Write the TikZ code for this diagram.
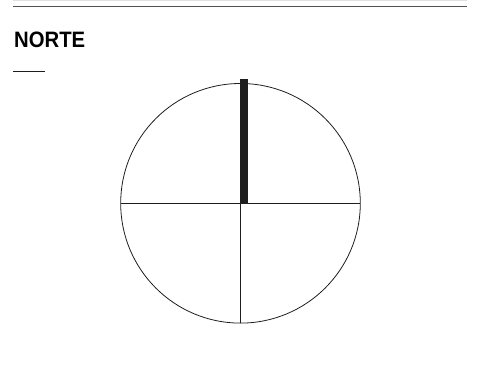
\documentclass[tikz,border=0pt]{standalone}
\usepackage{fontspec}
\setmainfont{Liberation Sans}
\usetikzlibrary{calc}
\definecolor{figK}{RGB}{30,30,30}
\definecolor{figG}{RGB}{80,80,80}

\begin{document}
\begin{tikzpicture}[x=1pt,y=-1pt,
  thinline/.style={figK,line width=0.8pt},
  rulebar/.style={figG,line width=1.3pt}]
\useasboundingbox (0,0) rectangle (485,369);
% page rules and heading
\draw[black!12,line width=1pt] (13,0.5)--(467,0.5);
\draw[rulebar] (13,6.5)--(467,6.5);
\node[anchor=base west,inner sep=0pt,font=\bfseries\fontsize{22.3}{24}\selectfont,xscale=0.91] (title) at (14,48) {NORTE};
\draw[figK,line width=0.9pt] (13,71)--(45,71);
% compass disc
\coordinate (c) at (240.5,203.3);
\draw[thinline] (c) circle (119.8);
\coordinate (w) at ($(c)+(-119.8,0)$);
\coordinate (e) at ($(c)+(119.8,0)$);
\coordinate (s) at ($(c)+(0,119.8)$);
\draw[thinline] (w)--(e);
\draw[thinline] (c)--(s);
% north bar
\fill[figK] (240,79) rectangle (248,204);
\end{tikzpicture}
\end{document}
